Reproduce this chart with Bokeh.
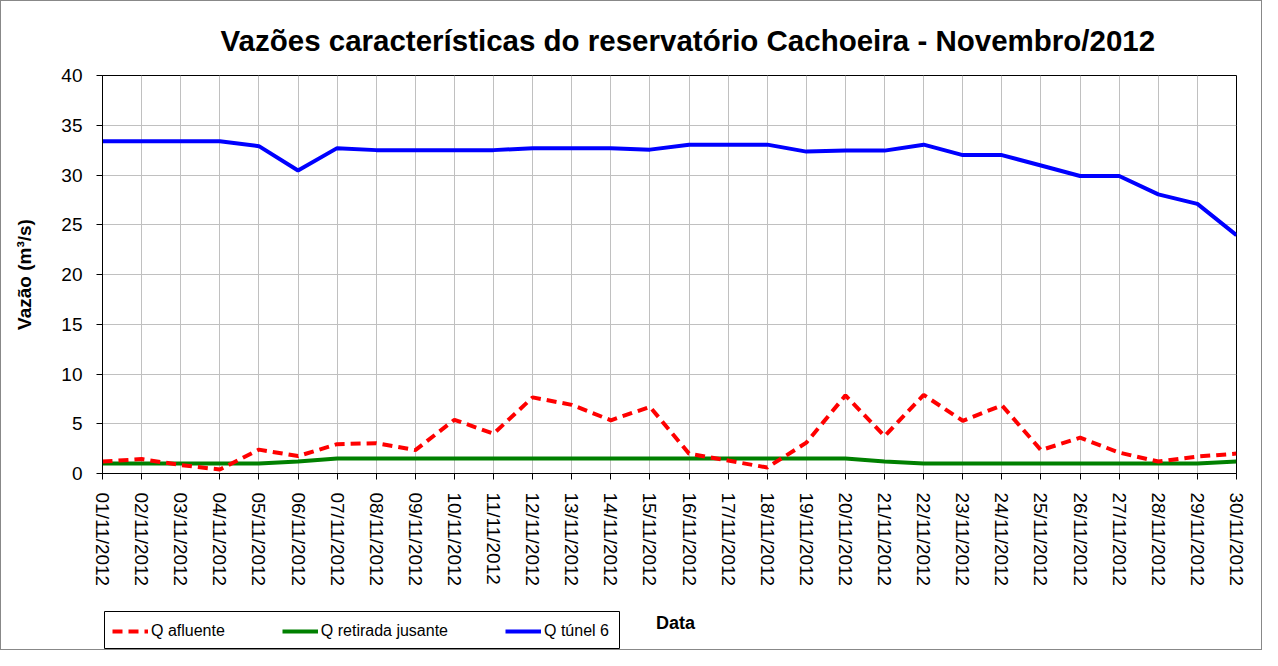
from bokeh.plotting import figure
from bokeh.models import Range1d, FixedTicker, Legend, LegendItem, Label
from bokeh.layouts import column
from bokeh.embed import file_html
from bokeh.resources import INLINE

datas = ["%02d/11/2012" % d for d in range(1, 31)]

q_afluente = [1.2, 1.45, 0.85, 0.4, 2.4, 1.75, 2.95, 3.05, 2.35, 5.4,
              4.0, 7.65, 6.9, 5.35, 6.7, 2.0, 1.3, 0.6, 3.1, 7.85,
              3.75, 7.9, 5.3, 6.85, 2.35, 3.6, 2.1, 1.2, 1.7, 2.0]
q_retirada = [1.0, 1.0, 1.0, 1.0, 1.0, 1.2, 1.5, 1.5, 1.5, 1.5,
              1.5, 1.5, 1.5, 1.5, 1.5, 1.5, 1.5, 1.5, 1.5, 1.5,
              1.2, 1.0, 1.0, 1.0, 1.0, 1.0, 1.0, 1.0, 1.0, 1.2]
q_tunel6 = [33.4, 33.4, 33.4, 33.4, 32.9, 30.45, 32.7, 32.5, 32.5, 32.5,
            32.5, 32.7, 32.7, 32.7, 32.55, 33.05, 33.05, 33.05, 32.35, 32.45,
            32.45, 33.05, 32.0, 32.0, 30.95, 29.9, 29.9, 28.05, 27.1, 23.95]

series_names = ["Q afluente", "Q retirada jusante", "Q túnel 6"]
series_colors = ["#ff0000", "#008000", "#0000ff"]
x_title = "Data"

x = list(range(len(datas)))
FONT = "Liberation Sans"
W = 1260
BL, BR = 101, 25   # left / right borders of the plot frame

# ---------------- main chart ----------------
p = figure(width=W, height=603, output_backend="svg", toolbar_location=None,
           x_range=Range1d(0, len(datas) - 1), y_range=Range1d(0, 40),
           min_border_left=BL, min_border_right=BR, min_border_top=74,
           min_border_bottom=131)

p.title.text = "Vazões características do reservatório Cachoeira - Novembro/2012"
p.title.text_font = FONT
p.title.text_font_size = "29.5px"
p.title.text_font_style = "bold"
p.title.text_color = "black"
p.title.align = "left"
p.title.offset = 118
p.title.standoff = 38

p.outline_line_color = "black"
p.outline_line_width = 1
p.background_fill_color = "white"
p.border_fill_color = "white"

p.xaxis.ticker = FixedTicker(ticks=x)
p.xaxis.major_label_overrides = {i: d for i, d in enumerate(datas)}
p.xaxis.major_label_orientation = "vertical"
p.yaxis.ticker = FixedTicker(ticks=[0, 5, 10, 15, 20, 25, 30, 35, 40])

for ax in (p.xaxis[0], p.yaxis[0]):
    ax.axis_line_color = "black"
    ax.major_tick_line_color = "black"
    ax.major_tick_out = 6
    ax.major_tick_in = 0
    ax.minor_tick_line_color = None
    ax.major_label_text_font = FONT
    ax.major_label_text_color = "black"
    ax.axis_label_text_font = FONT
    ax.axis_label_text_font_style = "bold"
    ax.axis_label_text_color = "black"

p.xaxis.major_label_text_font_size = "19px"
p.xaxis.major_label_standoff = 13

p.yaxis.major_label_text_font_size = "19px"
p.yaxis.major_label_standoff = 14
p.yaxis.axis_label = "Vazão (m³/s)"
p.yaxis.axis_label_text_font_size = "19px"
p.yaxis.axis_label_standoff = 23

p.xgrid.grid_line_color = "#c0c0c0"
p.ygrid.grid_line_color = "#c0c0c0"

r_ret = p.line(x, q_retirada, line_color=series_colors[1], line_width=4)
r_tun = p.line(x, q_tunel6, line_color=series_colors[2], line_width=4)
r_afl = p.line(x, q_afluente, line_color=series_colors[0], line_width=4, line_dash="10 6")

# ---------------- bottom strip: legend + x-axis title ----------------
# its frame is aligned with the main frame, so the x range is given in pixels
p2 = figure(width=W, height=45, output_backend="svg", toolbar_location=None,
            x_range=Range1d(BL, W - BR), y_range=Range1d(0, 45),
            x_axis_type=None, y_axis_type=None,
            min_border_left=0, min_border_right=0, min_border_top=0, min_border_bottom=0)
p2.grid.visible = False
p2.outline_line_color = None
p2.border_fill_color = "white"
p2.background_fill_color = "white"

p2.quad(left=[103], right=[618], bottom=[1], top=[38], fill_color=None,
        line_color="black", line_width=1)

nan = float("nan")
l_afl = p2.line([0, 1], [nan, nan], line_color=series_colors[0], line_width=4, line_dash="10 6")
l_ret = p2.line([0, 1], [nan, nan], line_color=series_colors[1], line_width=4)
l_tun = p2.line([0, 1], [nan, nan], line_color=series_colors[2], line_width=4)

legend = Legend(items=[LegendItem(label=series_names[0], renderers=[l_afl]),
                       LegendItem(label=series_names[1], renderers=[l_ret]),
                       LegendItem(label=series_names[2], renderers=[l_tun])],
                location=(10, 8), orientation="horizontal")
legend.label_text_font = FONT
legend.label_text_font_size = "16px"
legend.label_text_color = "black"
legend.glyph_width = 36
legend.glyph_height = 20
legend.label_standoff = 3
legend.spacing = 57
legend.padding = 8
legend.margin = 0
legend.border_line_color = None
legend.background_fill_alpha = 0
p2.add_layout(legend, "center")

p2.add_layout(Label(x=674, y=27, text=x_title, text_font=FONT, text_font_size="18px",
                    text_font_style="bold", text_align="center", text_baseline="middle",
                    text_color="black"))

layout = column(p, p2, spacing=0)
layout.styles = {"border": "1px solid #888888"}

open("out.html", "w").write(file_html(layout, INLINE))
